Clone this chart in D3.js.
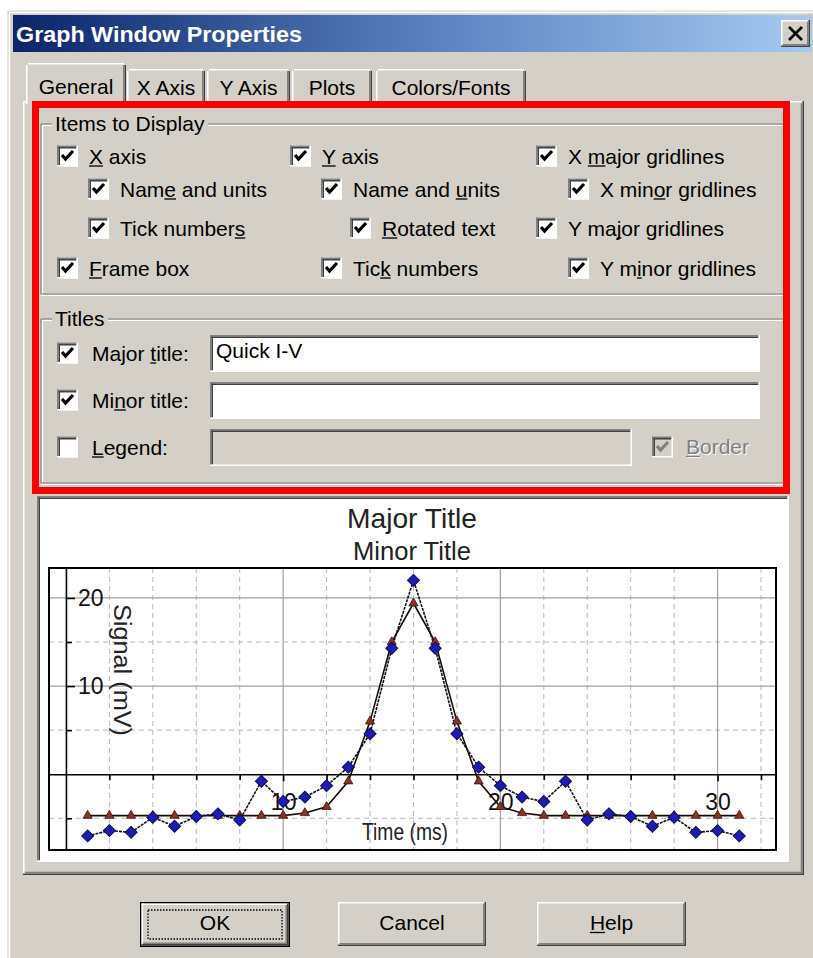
<!DOCTYPE html>
<html><head><meta charset="utf-8">
<script src="https://cdn.jsdelivr.net/npm/d3@7"></script>
<style>
body{margin:0;background:#fff}
svg{display:block}
text{font-family:"Liberation Sans",Arial,sans-serif}
</style>
</head><body>
<svg id="c" width="813" height="958"></svg>
<script>
// ---------------- DATA ----------------
const time = [1,2,3,4,5,6,7,8,9,10,11,12,13,14,15,16,17,18,19,20,21,22,23,24,25,26,27,28,29,30,31];
const signalBlue = [-7.0,-6.4,-6.6,-4.9,-5.9,-4.8,-4.5,-5.2,-0.8,-3.1,-2.6,-1.3,0.8,4.6,14.3,22.0,14.3,4.6,0.8,-1.3,-2.6,-3.1,-0.8,-5.2,-4.5,-4.8,-5.9,-4.9,-6.6,-6.4,-7.0];
const signalBrown = [-4.7,-4.7,-4.7,-4.7,-4.7,-4.7,-4.7,-4.7,-4.7,-4.7,-4.4,-3.7,-0.8,6.0,15.0,19.4,15.0,6.0,-0.8,-3.7,-4.4,-4.7,-4.7,-4.7,-4.7,-4.7,-4.7,-4.7,-4.7,-4.7,-4.7];
const xMajorTicks = [10,20,30];
const xMinorTicks = [2,4,6,8,12,14,16,18,22,24,26,28,32];
const yMajorTicks = [20,10];
const yMinorTicks = [15,5,-5];
const chartTitles = ["Major Title","Minor Title"];
const xAxisName = "Time (ms)";
const yAxisName = "Signal (mV)";
const windowTitle = "Graph Window Properties";
const tabNames = ["General","X Axis","Y Axis","Plots","Colors/Fonts"];
const displayItems = ["&X axis","Nam&e and units","Tick number&s","&Frame box","&Y axis","Name and &units","&Rotated text","Tic&k numbers","X &major gridlines","X min&or gridlines","Y ma&jor gridlines","Y m&inor gridlines"];
const titleItems = ["Major &title:","Mi&nor title:","&Legend:"];
const titleChecked = [true,true,false];
const titleValues = ["Quick I-V","",""];
const buttonNames = ["OK","Cancel","&Help"];

// ---------------- LAYOUT ----------------
const BG = "#d4d0c8";
const svg = d3.select("#c");
const defs = svg.append("defs");
const grad = defs.append("linearGradient").attr("id","tb").attr("x1","0").attr("x2","1").attr("y1","0").attr("y2","0");
grad.append("stop").attr("offset","0").attr("stop-color","#0a246a");
grad.append("stop").attr("offset","0.55").attr("stop-color","#5f86c4");
grad.append("stop").attr("offset","1").attr("stop-color","#a6caf0");

function ln(g,x1,y1,x2,y2,c,w){return g.append("line").attr("x1",x1).attr("y1",y1).attr("x2",x2).attr("y2",y2).attr("stroke",c).attr("stroke-width",w||1.5);}
function raised(g,x,y,w,h){
  g.append("rect").attr("x",x).attr("y",y).attr("width",w).attr("height",h).attr("fill",BG);
  ln(g,x,y+0.75,x+w,y+0.75,"#ffffff");ln(g,x+0.75,y,x+0.75,y+h,"#ffffff");
  ln(g,x,y+h-0.75,x+w,y+h-0.75,"#404040");ln(g,x+w-0.75,y,x+w-0.75,y+h,"#404040");
  ln(g,x+1.5,y+h-2.25,x+w-1.5,y+h-2.25,"#808080");ln(g,x+w-2.25,y+1.5,x+w-2.25,y+h-1.5,"#808080");
}
function sunken(g,x,y,w,h,fill){
  g.append("rect").attr("x",x).attr("y",y).attr("width",w).attr("height",h).attr("fill",fill);
  ln(g,x,y+0.75,x+w,y+0.75,"#808080");ln(g,x+0.75,y,x+0.75,y+h,"#808080");
  ln(g,x+1.5,y+2.25,x+w-1.5,y+2.25,"#404040");ln(g,x+2.25,y+1.5,x+2.25,y+h-1.5,"#404040");
  ln(g,x,y+h-0.75,x+w,y+h-0.75,"#ffffff");ln(g,x+w-0.75,y,x+w-0.75,y+h,"#ffffff");
}
function label(g,str,x,y,opts){
  opts=opts||{};
  const idx=str.indexOf("&");const plain=str.replace("&","");
  const size=opts.size||21;
  const t=g.append("text").attr("x",x).attr("y",y).attr("font-size",size).attr("fill",opts.fill||"#000")
    .attr("text-anchor",opts.anchor||"start").text(plain);
  if(idx>=0){
    const n=t.node();
    const total=n.getComputedTextLength();
    const start=opts.anchor==="middle"?x-total/2:x;
    const off=idx===0?0:n.getSubStringLength(0,idx);
    const w=n.getSubStringLength(idx,1);
    ln(g,start+off,y+2.5,start+off+w,y+2.5,opts.fill||"#000",1.3);
  }
  return t;
}
function checkbox(g,x,yc,checked,disabled){
  const y=yc-10.5;
  sunken(g,x,y,21,21,disabled?BG:"#fff");
  if(checked){
    g.append("path").attr("d",`M${x+5},${y+9.5} L${x+8.5},${y+13.5} L${x+16},${y+5.5}`)
      .attr("fill","none").attr("stroke",disabled?"#808080":"#000").attr("stroke-width",3.2);
  }
}

// window background & frame
svg.append("rect").attr("width",813).attr("height",958).attr("fill","#fff");
svg.append("rect").attr("x",7).attr("y",10).attr("width",806).attr("height",948).attr("fill",BG);
ln(svg,7,10.75,813,10.75,"#e8e6e0");ln(svg,7.75,10,7.75,958,"#e8e6e0");
ln(svg,9,12.5,813,12.5,"#ffffff");ln(svg,9.5,12,9.5,958,"#ffffff");

// title bar
svg.append("rect").attr("x",13).attr("y",15).attr("width",799).attr("height",37).attr("fill","url(#tb)");
svg.append("text").attr("x",16).attr("y",42).attr("font-size",22).attr("font-weight","bold").attr("fill","#fff")
  .attr("textLength",286).attr("lengthAdjust","spacingAndGlyphs").text(windowTitle);
raised(svg,781,20,29,27);
ln(svg,789,27,802,40,"#000",2.6);ln(svg,802,27,789,40,"#000",2.6);

// tab panel
const tp=svg.append("g");
tp.append("rect").attr("x",23).attr("y",101).attr("width",781).attr("height",774).attr("fill",BG);
ln(tp,23,101.75,804,101.75,"#ffffff");ln(tp,23.75,101,23.75,875,"#ffffff");
ln(tp,23,874.25,804,874.25,"#404040");ln(tp,803.25,101,803.25,875,"#404040");
ln(tp,25,872.5,802,872.5,"#808080");ln(tp,801.5,103,801.5,873,"#808080");

// tabs
const tabX=[[26,126],[127,205],[207,290],[292,372],[376,526]];
tabNames.forEach((name,i)=>{
  const [a,b]=tabX[i];
  const sel=i===0;
  const top=sel?63:69, bot=sel?104:101;
  const g=svg.append("g");
  g.append("rect").attr("x",a).attr("y",top).attr("width",b-a).attr("height",bot-top).attr("fill",BG);
  ln(g,a+0.75,top+2,a+0.75,bot,"#ffffff");ln(g,a+2,top+0.75,b-2,top+0.75,"#ffffff");
  ln(g,b-0.75,top+2,b-0.75,bot,"#404040");ln(g,b-2.25,top+2,b-2.25,bot,"#808080");
  label(g,name,(a+b)/2,sel?94:95,{anchor:"middle"});
});

// group boxes
function groupBox(g,x1,y1,x2,y2,title,tw){
  const c="#808080",w="#ffffff";
  ln(g,x1,y1,52,y1,c,1.2);ln(g,52+tw,y1,x2,y1,c,1.2);
  ln(g,x1+1,y1+1.5,52,y1+1.5,w,1.2);ln(g,52+tw,y1+1.5,x2,y1+1.5,w,1.2);
  ln(g,x1,y1,x1,y2,c,1.2);ln(g,x1+1.5,y1+1,x1+1.5,y2,w,1.2);
  ln(g,x1,y2,x2,y2,c,1.2);ln(g,x1,y2+1.5,x2,y2+1.5,w,1.2);
  label(g,title,55,y1+7);
}
const gb=svg.append("g");
groupBox(gb,41,124,787,294,"Items to Display",156);
groupBox(gb,41,319,787,483,"Titles",56);

// Items to Display checkboxes
const itemPos=[[57,156],[88,189],[88,228],[57,268],[290,156],[321,189],[350,228],[321,268],[536,156],[568,189],[536,228],[568,268]];
displayItems.forEach((s,i)=>{
  const [x,yc]=itemPos[i];
  checkbox(svg,x,yc,true,false);
  label(svg,s,x+32,yc+7.5);
});

// Titles rows
const rowY=[353,400,447];
titleItems.forEach((s,i)=>{
  checkbox(svg,57,rowY[i],titleChecked[i],false);
  label(svg,s,92,rowY[i]+7.5);
  const w=i===2?422:550;
  sunken(svg,210,rowY[i]-18,w,37,i===2?BG:"#fff");
  if(titleValues[i]) svg.append("text").attr("x",216).attr("y",rowY[i]+5).attr("font-size",21).text(titleValues[i]);
});
checkbox(svg,652,447,true,true);
label(svg,"&Border",687,455,{fill:"#ffffff"});
label(svg,"&Border",686,454,{fill:"#808080"});

// red highlight
svg.append("rect").attr("x",35.5).attr("y",104.5).attr("width",751).attr("height",386)
  .attr("fill","none").attr("stroke","#ff0000").attr("stroke-width",7);

// ---------------- CHART PREVIEW ----------------
sunken(svg,37,496,752,366,"#fff");
const x = d3.scaleLinear().domain([-0.78,32.69]).range([49,776]);
const y = d3.scaleLinear().domain([-8.6,23.4]).range([850,568]);
const [px0,px1]=x.range(), [py0,py1]=y.range();
const plot=svg.append("g");

// gridlines
plot.selectAll(".vmin").data(xMinorTicks).join("line").attr("class","vmin")
  .attr("x1",d=>x(d)).attr("x2",d=>x(d)).attr("y1",py1).attr("y2",py0)
  .attr("stroke","#b8b8b8").attr("stroke-width",1).attr("stroke-dasharray","5,4");
plot.selectAll(".hmin").data(yMinorTicks).join("line").attr("class","hmin")
  .attr("y1",d=>y(d)).attr("y2",d=>y(d)).attr("x1",px0).attr("x2",px1)
  .attr("stroke","#b8b8b8").attr("stroke-width",1).attr("stroke-dasharray","5,4");
plot.selectAll(".vmaj").data(xMajorTicks).join("line").attr("class","vmaj")
  .attr("x1",d=>x(d)).attr("x2",d=>x(d)).attr("y1",py1).attr("y2",py0)
  .attr("stroke","#a0a0a0").attr("stroke-width",1.2);
plot.selectAll(".hmaj").data(yMajorTicks).join("line").attr("class","hmaj")
  .attr("y1",d=>y(d)).attr("y2",d=>y(d)).attr("x1",px0).attr("x2",px1)
  .attr("stroke","#a0a0a0").attr("stroke-width",1.2);

// axes
const yAx=plot.append("g").attr("transform",`translate(${x(0)},0)`)
  .call(d3.axisRight(y).tickValues(yMajorTicks).tickSize(9).tickSizeOuter(0).tickPadding(3).tickFormat(d3.format("d")));
const yAxMin=plot.append("g").attr("transform",`translate(${x(0)},0)`)
  .call(d3.axisRight(y).tickValues(yMinorTicks).tickSize(6).tickSizeOuter(0).tickFormat(""));
yAxMin.select(".domain").remove();
const xAx=plot.append("g").attr("transform",`translate(0,${y(0)})`)
  .call(d3.axisBottom(x).tickValues(xMajorTicks).tickSize(7).tickSizeOuter(0).tickPadding(12).tickFormat(d3.format("d")));
const xAxMin=plot.append("g").attr("transform",`translate(0,${y(0)})`)
  .call(d3.axisBottom(x).tickValues(xMinorTicks).tickSize(6).tickSizeOuter(0).tickFormat(""));
xAxMin.select(".domain").remove();
[yAx,yAxMin,xAx,xAxMin].forEach(a=>{
  a.selectAll("path,line").attr("stroke","#000").attr("stroke-width",1.6);
  a.selectAll("text").attr("font-size",23).attr("fill","#111").attr("font-family","Liberation Sans, Arial, sans-serif");
});

// frame
plot.append("rect").attr("x",px0).attr("y",py1).attr("width",px1-px0).attr("height",py0-py1)
  .attr("fill","none").attr("stroke","#000").attr("stroke-width",2);

// titles
plot.append("text").attr("x",412).attr("y",528).attr("text-anchor","middle").attr("font-size",28).attr("fill","#222")
  .attr("textLength",130).attr("lengthAdjust","spacingAndGlyphs").text(chartTitles[0]);
plot.append("text").attr("x",412).attr("y",560).attr("text-anchor","middle").attr("font-size",25).attr("fill","#222")
  .attr("textLength",118).attr("lengthAdjust","spacingAndGlyphs").text(chartTitles[1]);
plot.append("text").attr("transform","translate(114,670) rotate(90)").attr("text-anchor","middle").attr("font-size",23).attr("fill","#222")
  .attr("textLength",132).attr("lengthAdjust","spacingAndGlyphs").text(yAxisName);
plot.append("text").attr("x",405).attr("y",840).attr("text-anchor","middle").attr("font-size",24).attr("fill","#222")
  .attr("textLength",86).attr("lengthAdjust","spacingAndGlyphs").text(xAxisName);

// series
const blue=time.map((t,i)=>({t,v:signalBlue[i]}));
const brown=time.map((t,i)=>({t,v:signalBrown[i]}));
const line=d3.line().x(d=>x(d.t)).y(d=>y(d.v));
plot.append("path").datum(brown).attr("d",line).attr("fill","none").attr("stroke","#1a0a04").attr("stroke-width",1.6);
plot.append("path").datum(blue).attr("d",line).attr("fill","none").attr("stroke","#111122").attr("stroke-width",1.6).attr("stroke-dasharray","3,1");
plot.selectAll(".tri").data(brown).join("path").attr("class","tri")
  .attr("transform",d=>`translate(${x(d.t)},${y(d.v)})`)
  .attr("d",d3.symbol(d3.symbolTriangle,36)).attr("fill","#8b3322").attr("stroke","#3a1008").attr("stroke-width",0.8);
plot.selectAll(".dia").data(blue).join("path").attr("class","dia")
  .attr("transform",d=>`translate(${x(d.t)},${y(d.v)}) rotate(45)`)
  .attr("d",d3.symbol(d3.symbolSquare,72)).attr("fill","#1c1cb0").attr("stroke","#0c0c60").attr("stroke-width",1);

// ---------------- BUTTONS ----------------
const btnX=[[140,290],[338,486],[537,686]];
buttonNames.forEach((b,i)=>{
  const [a,c]=btnX[i];
  const g=svg.append("g");
  if(i===0){
    g.append("rect").attr("x",a).attr("y",902).attr("width",c-a).attr("height",45).attr("fill","#000");
    raised(g,a+1.5,903.5,c-a-3,42);
    g.append("rect").attr("x",a+8).attr("y",910).attr("width",c-a-16).attr("height",29).attr("fill","none")
      .attr("stroke","#000").attr("stroke-width",1.3).attr("stroke-dasharray","1.5,1.5");
  } else {
    raised(g,a,902,c-a,44);
  }
  label(g,b,(a+c)/2,930,{anchor:"middle"});
});
</script>
</body></html>
